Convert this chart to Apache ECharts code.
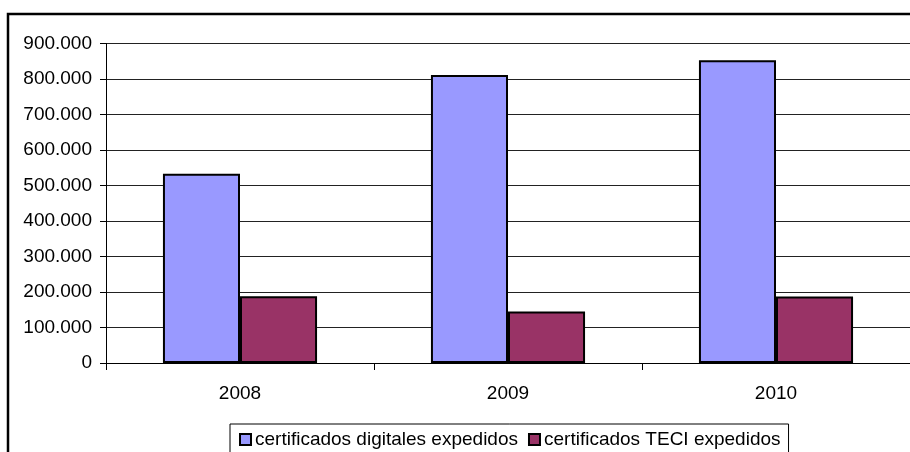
<!DOCTYPE html>
<html>
<head>
<meta charset="utf-8">
<script src="https://cdn.jsdelivr.net/npm/echarts@6/dist/echarts.min.js"></script>
<style>
  html, body { margin: 0; padding: 0; background: #fff; }
  #chart { width: 910px; height: 452px; }
</style>
</head>
<body>
<div id="chart"></div>
<script>
// datos
var years = ['2008', '2009', '2010'];
var digitales = [533000, 811000, 853000];
var teci = [188000, 145000, 187000];
var seriesNames = ['certificados digitales expedidos', 'certificados TECI expedidos'];

var myChart = echarts.init(document.getElementById('chart'));

// formato con punto de miles: 900.000
function fmt(v) {
  return String(v).replace(/\B(?=(\d{3})+(?!\d))/g, '.');
}

var font = 'Liberation Sans, Arial, sans-serif';

var option = {
  animation: false,
  backgroundColor: '#fff',
  textStyle: { fontFamily: font },
  graphic: [
    {
      type: 'rect',
      shape: { x: 8, y: 14, width: 1000, height: 1000 },
      style: { fill: 'none', stroke: '#000', lineWidth: 2.5 },
      silent: true
    }
  ],
  grid: { left: 106, right: 0, top: 43.5, bottom: 89 },
  legend: {
    left: 230,
    top: 424,
    padding: [6, 8, 6, 9],
    borderColor: '#000',
    borderWidth: 1,
    itemWidth: 11,
    itemHeight: 11,
    itemGap: 10,
    icon: 'rect',
    itemStyle: { borderColor: '#000', borderWidth: 2 },
    textStyle: { fontSize: 19, color: '#000', fontFamily: font, padding: [0, 0, 0, -1] },
    data: seriesNames
  },
  xAxis: {
    type: 'category',
    data: years,
    axisLine: { lineStyle: { color: '#000', width: 1 } },
    axisTick: { show: true, length: 7, lineStyle: { color: '#000' } },
    axisLabel: { color: '#000', fontSize: 19, margin: 21, fontFamily: font },
    splitLine: { show: false }
  },
  yAxis: {
    type: 'value',
    min: 0,
    max: 900000,
    interval: 100000,
    axisLine: { show: true, lineStyle: { color: '#000', width: 1 } },
    axisTick: { show: true, length: 6, lineStyle: { color: '#000' } },
    axisLabel: { color: '#000', fontSize: 19, margin: 14, fontFamily: font, formatter: fmt },
    splitLine: { show: true, lineStyle: { color: '#222', width: 1 } }
  },
  series: [
    {
      name: seriesNames[0],
      type: 'bar',
      data: digitales,
      barGap: '0%',
      barCategoryGap: '42.5%',
      itemStyle: { color: '#9999FF', borderColor: '#000', borderWidth: 2 }
    },
    {
      name: seriesNames[1],
      type: 'bar',
      data: teci,
      itemStyle: { color: '#993366', borderColor: '#000', borderWidth: 2 }
    }
  ]
};

myChart.setOption(option);
</script>
</body>
</html>
